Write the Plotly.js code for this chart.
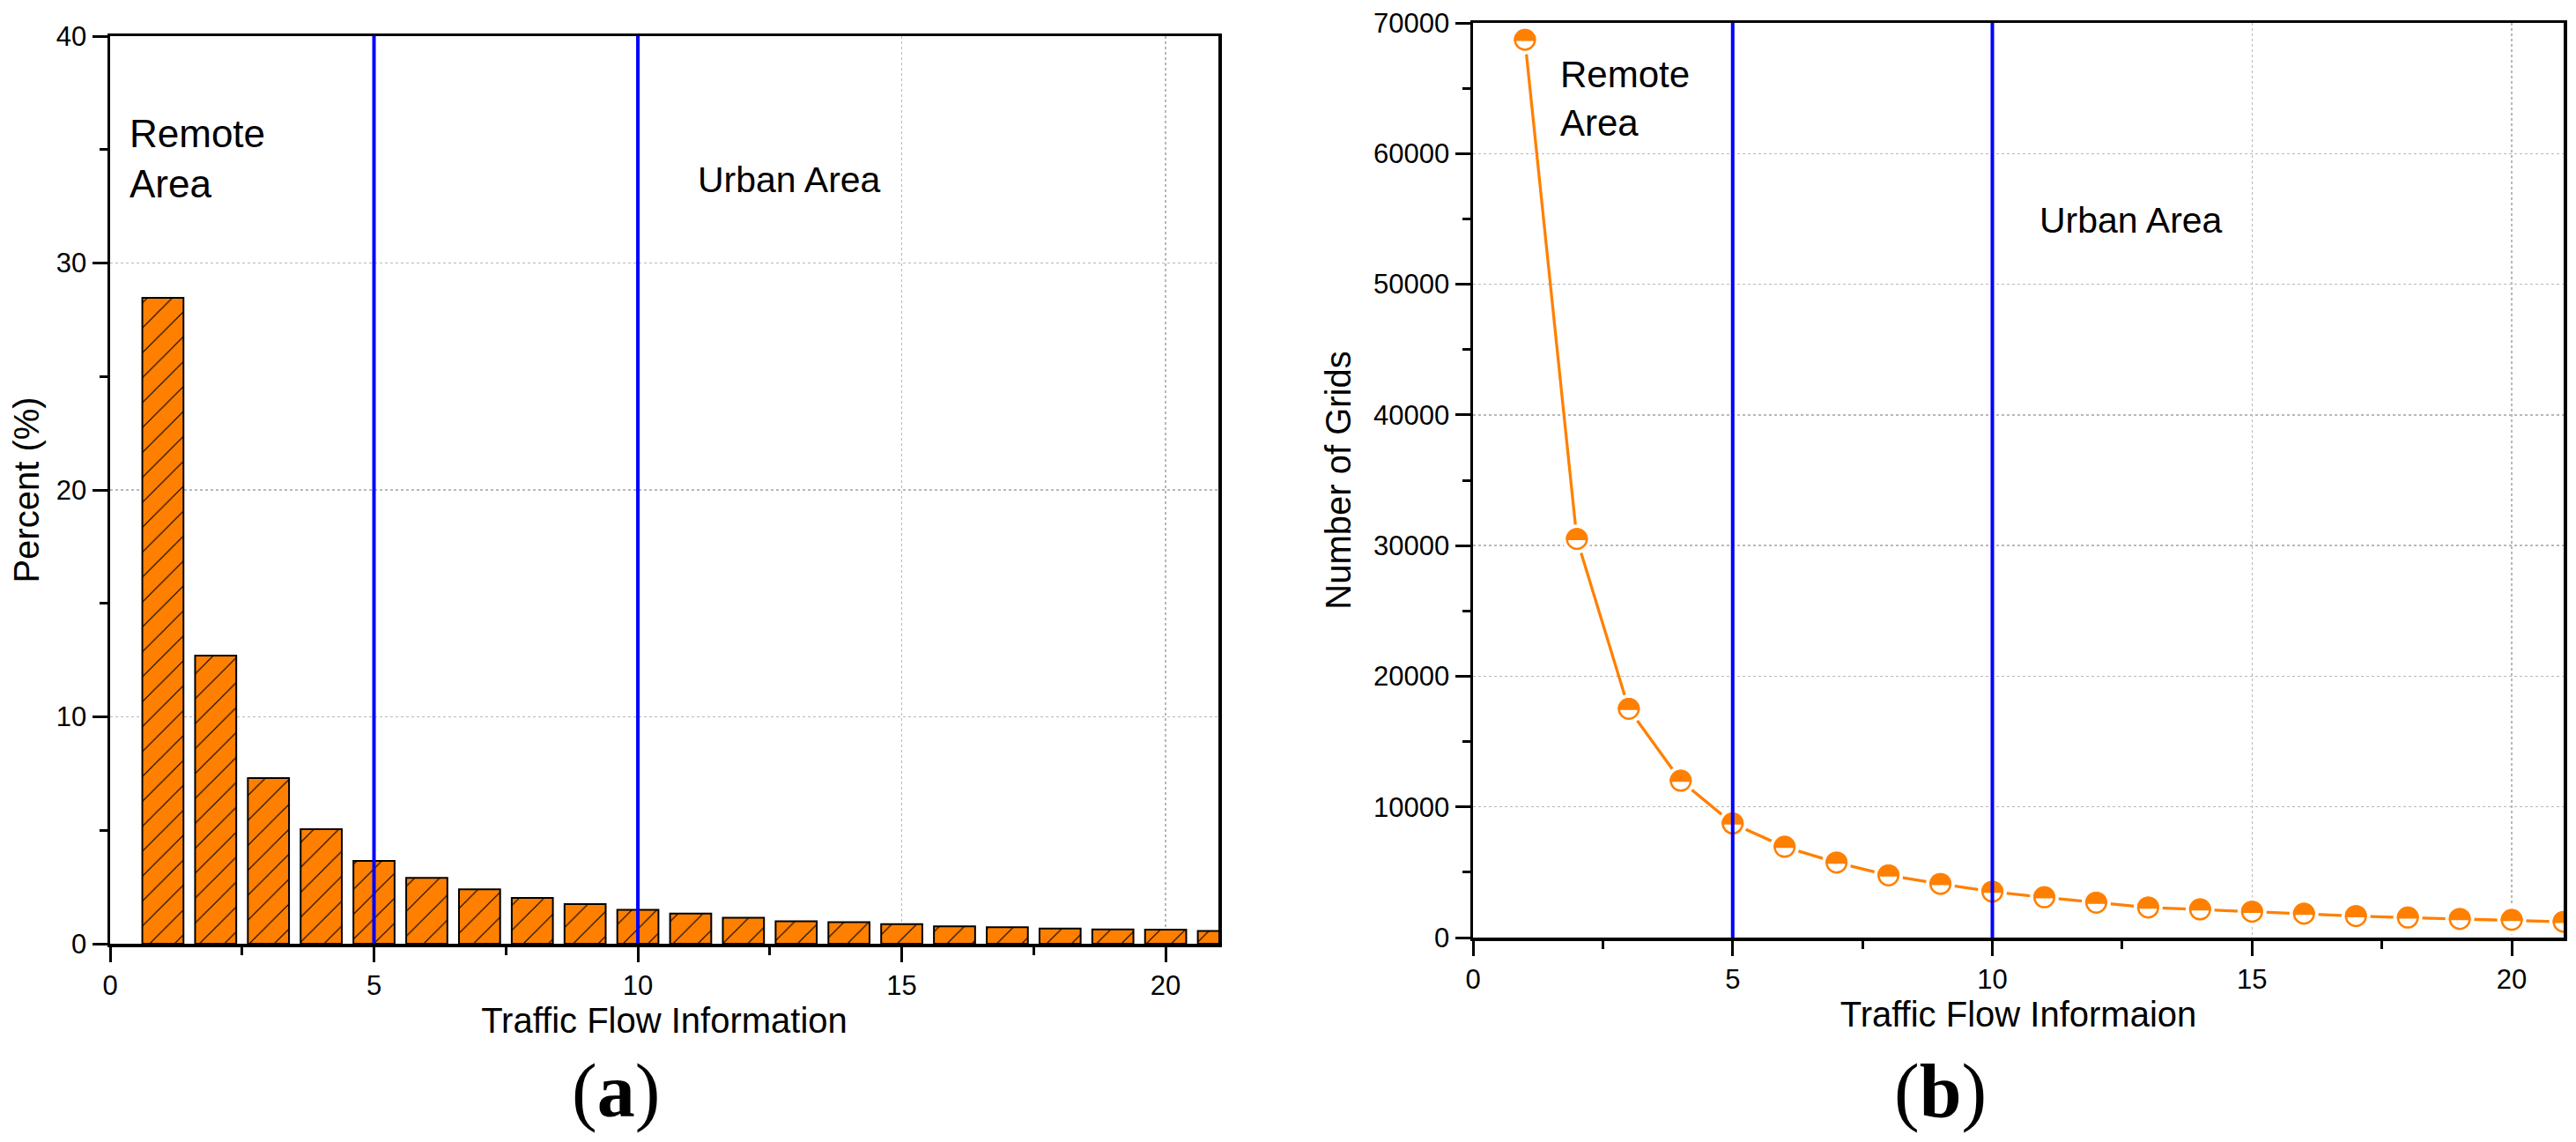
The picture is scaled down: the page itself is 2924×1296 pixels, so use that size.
<!DOCTYPE html>
<html>
<head>
<meta charset="utf-8">
<script src="https://cdn.plot.ly/plotly-3.0.1.min.js"></script>
<style>
  html, body { margin: 0; padding: 0; background: #ffffff; }
  #chart { width: 2924px; height: 1296px; }
</style>
</head>
<body>
<div id="chart"></div>
<script>
// ---------- data ----------
const flowCategories = [1, 2, 3, 4, 5, 6, 7, 8, 9, 10, 11, 12, 13, 14, 15, 16, 17, 18, 19, 20, 21];
const percentValues = [28.47, 12.7, 7.3, 5.05, 3.65, 2.9, 2.4, 2.02, 1.75, 1.5, 1.33, 1.15, 0.99, 0.95, 0.86, 0.77, 0.73, 0.67, 0.63, 0.62, 0.56];
const gridCounts = [68700, 30500, 17500, 12000, 8730, 6940, 5740, 4760, 4100, 3510, 3080, 2670, 2300, 2150, 1980, 1820, 1640, 1530, 1420, 1350, 1200];
const boundaryX = [5, 10];
const xTickVals = [0, 5, 10, 15, 20];
const percentTickVals = [0, 10, 20, 30, 40];
const gridTickVals = [0, 10000, 20000, 30000, 40000, 50000, 60000, 70000];
const xRange = [0, 21];
const percentRange = [0, 40];
const gridRange = [0, 70000];

// ---------- style ----------
const ORANGE = '#FF8000';
const BLUE = '#0000FF';
const FONT = 'Liberation Sans, Arial, sans-serif';
const W = 2924, H = 1296;
const px = v => v / W;
const py = v => 1 - v / H;

const traces = [
  {
    type: 'bar', x: flowCategories, y: percentValues, width: 0.78,
    xaxis: 'x', yaxis: 'y',
    marker: {
      color: ORANGE,
      line: { color: '#000000', width: 2 },
      pattern: { shape: '/', fgcolor: '#000000', bgcolor: ORANGE, size: 20, solidity: 0.06, fillmode: 'replace' }
    },
    hoverinfo: 'skip', showlegend: false
  },
  // connecting line
  {
    type: 'scatter', mode: 'lines', x: flowCategories, y: gridCounts,
    xaxis: 'x2', yaxis: 'y2', line: { color: ORANGE, width: 3.3 },
    hoverinfo: 'skip', showlegend: false
  },
  // white halo (gap around markers)
  {
    type: 'scatter', mode: 'markers', x: flowCategories, y: gridCounts,
    xaxis: 'x2', yaxis: 'y2', marker: { symbol: 'circle', size: 33, color: '#ffffff', line: { width: 0 } },
    hoverinfo: 'skip', showlegend: false
  },
  // outlined circle
  {
    type: 'scatter', mode: 'markers', x: flowCategories, y: gridCounts,
    xaxis: 'x2', yaxis: 'y2', marker: { symbol: 'circle', size: 22.5, color: '#ffffff', line: { color: ORANGE, width: 2.5 } },
    hoverinfo: 'skip', showlegend: false
  },
  // top half filled (converted to half-disc after render)
  {
    type: 'scatter', mode: 'markers', x: flowCategories, y: gridCounts,
    xaxis: 'x2', yaxis: 'y2', marker: { symbol: 'circle', size: 22.5, color: ORANGE, line: { color: ORANGE, width: 2.5 } },
    hoverinfo: 'skip', showlegend: false
  }
];

function mainX(domain, titleText) {
  return {
    domain: domain, range: xRange,
    tickmode: 'array', tickvals: xTickVals,
    ticks: 'outside', ticklen: 17, tickwidth: 3, tickcolor: '#000',
    minor: { tickmode: 'linear', tick0: 0, dtick: 2.5, ticks: 'outside', ticklen: 9, tickwidth: 3, tickcolor: '#000', showgrid: false },
    showline: true, linecolor: '#000', linewidth: 3.5, mirror: true,
    showgrid: true, gridcolor: '#b8b8b8', griddash: 'dot', gridwidth: 1.3,
    zeroline: false,
    tickfont: { family: FONT, size: 31, color: '#000' },
    title: { text: titleText, font: { family: FONT, size: 40, color: '#000' }, standoff: 0 },
    automargin: false
  };
}
function mainY(domain, range, tickvals, minorD, titleText, standoff) {
  return {
    domain: domain, range: range,
    tickmode: 'array', tickvals: tickvals, tickformat: 'd',
    ticks: 'outside', ticklen: 17, tickwidth: 3, tickcolor: '#000',
    minor: { tickmode: 'linear', tick0: 0, dtick: minorD, ticks: 'outside', ticklen: 9, tickwidth: 3, tickcolor: '#000', showgrid: false },
    showline: true, linecolor: '#000', linewidth: 3.5, mirror: true,
    showgrid: true, gridcolor: '#b8b8b8', griddash: 'dot', gridwidth: 1.3,
    zeroline: false,
    tickfont: { family: FONT, size: 31, color: '#000' },
    title: { text: titleText, font: { family: FONT, size: 40, color: '#000' }, standoff: standoff },
    automargin: false
  };
}
function mirrorAxis(over, anchor, side, range, dtick, minorD) {
  return {
    overlaying: over, anchor: anchor, side: side, range: range,
    tickmode: 'linear', tick0: 0, dtick: dtick,
    ticks: 'inside', ticklen: 16, tickwidth: 3, tickcolor: '#000',
    minor: { tickmode: 'linear', tick0: 0, dtick: minorD, ticks: 'inside', ticklen: 8, tickwidth: 3, tickcolor: '#000', showgrid: false },
    showticklabels: false, showgrid: false, showline: false, zeroline: false
  };
}

const xa = mainX([px(125), px(1383)], 'Traffic Flow Information'); xa.anchor = 'y';
const xb = mainX([px(1672), px(2910)], 'Traffic Flow Informaion'); xb.anchor = 'y2';
const ya = mainY([py(1071), py(41)], percentRange, percentTickVals, 5, 'Percent (%)', 8); ya.anchor = 'x';
const yb = mainY([py(1064), py(26)], gridRange, gridTickVals, 5000, 'Number of Grids', 14); yb.anchor = 'x2';

const shapes = [];
boundaryX.forEach(b => {
  shapes.push({ type: 'line', xref: 'x', yref: 'y', x0: b, x1: b, y0: percentRange[0], y1: percentRange[1], line: { color: BLUE, width: 4 }, layer: 'above' });
  shapes.push({ type: 'line', xref: 'x2', yref: 'y2', x0: b, x1: b, y0: gridRange[0], y1: gridRange[1], line: { color: BLUE, width: 4 }, layer: 'above' });
});

const annFont = (s) => ({ family: FONT, size: s, color: '#000' });
const annotations = [
  { xref: 'paper', yref: 'paper', x: px(145), y: py(180), xanchor: 'left', yanchor: 'middle', align: 'left', showarrow: false, text: 'Remote<br>Area', font: annFont(44) },
  { xref: 'paper', yref: 'paper', x: px(790), y: py(204), xanchor: 'left', yanchor: 'middle', align: 'left', showarrow: false, text: 'Urban Area', font: annFont(41) },
  { xref: 'paper', yref: 'paper', x: px(1769), y: py(112), xanchor: 'left', yanchor: 'middle', align: 'left', showarrow: false, text: 'Remote<br>Area', font: annFont(42) },
  { xref: 'paper', yref: 'paper', x: px(2313), y: py(250), xanchor: 'left', yanchor: 'middle', align: 'left', showarrow: false, text: 'Urban Area', font: annFont(41) },
  { xref: 'paper', yref: 'paper', x: px(699), y: py(1238), xanchor: 'center', yanchor: 'middle', showarrow: false, text: '(<b>a</b>)', font: { family: 'Liberation Serif, Times New Roman, serif', size: 86, color: '#000' } },
  { xref: 'paper', yref: 'paper', x: px(2202), y: py(1238), xanchor: 'center', yanchor: 'middle', showarrow: false, text: '(<b>b</b>)', font: { family: 'Liberation Serif, Times New Roman, serif', size: 86, color: '#000' } }
];

const layout = {
  width: W, height: H,
  margin: { l: 0, r: 0, t: 0, b: 0, pad: 0 },
  paper_bgcolor: '#ffffff', plot_bgcolor: '#ffffff',
  showlegend: false, bargap: 0,
  xaxis: xa, yaxis: ya,
  xaxis2: xb, yaxis2: yb,
  xaxis3: mirrorAxis('x', 'y', 'top', xRange, 5, 2.5),
  yaxis3: mirrorAxis('y', 'x', 'right', percentRange, 10, 5),
  xaxis4: mirrorAxis('x2', 'y2', 'top', xRange, 5, 2.5),
  yaxis4: mirrorAxis('y2', 'x2', 'right', gridRange, 10000, 5000),
  shapes: shapes,
  annotations: annotations
};

const gd = document.getElementById('chart');
Plotly.newPlot(gd, traces, layout, { staticPlot: true, displayModeBar: false }).then(function () {
  // turn the last marker layer of panel (b) into top half-discs
  const groups = gd.querySelectorAll('.subplot.x2y2 .scatterlayer .trace');
  const last = groups[groups.length - 1];
  if (!last) return;
  last.querySelectorAll('path.point').forEach(function (p) {
    const d = p.getAttribute('d') || '';
    const m = /^M([\d.]+),0/.exec(d);
    if (!m) return;
    const r = m[1];
    p.setAttribute('d', 'M' + r + ',0A' + r + ',' + r + ' 0 0,0 -' + r + ',0Z');
  });
});
</script>
</body>
</html>
